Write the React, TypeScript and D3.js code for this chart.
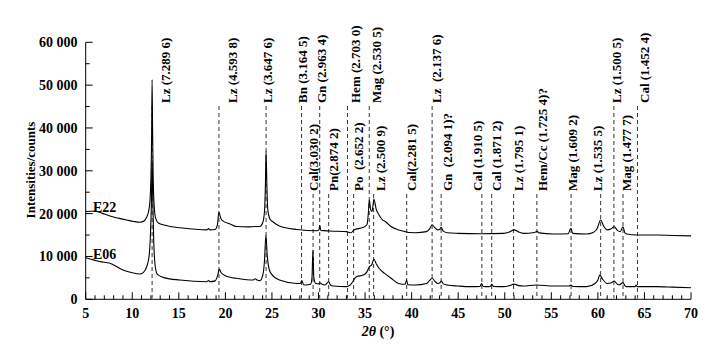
import React from "react";
import * as d3 from "d3";

// ---------- data ----------
const xTickValues = [5, 10, 15, 20, 25, 30, 35, 40, 45, 50, 55, 60, 65, 70];
const xTickLabels = ["5", "10", "15", "20", "25", "30", "35", "40", "45", "50", "55", "60", "65", "70"];
const yTickValues = [0, 10000, 20000, 30000, 40000, 50000, 60000];
const yTickLabels = ["0", "10 000", "20 000", "30 000", "40 000", "50 000", "60 000"];

const seriesNames = ["E22", "E06"];

// [2θ, counts]
const e22: [number, number][] = [
  [5.0, 20500], [5.5, 20550], [6.0, 20600], [6.5, 20300], [7.0, 19900], [7.6, 19450],
  [8.5, 18950], [9.4, 18500], [10.2, 18150], [10.85, 18000], [11.2, 18200], [11.5, 19000],
  [11.75, 20500], [11.9, 23000], [12.0, 28000], [12.08, 38000], [12.13, 51300], [12.18, 40000],
  [12.25, 28000], [12.35, 22000], [12.5, 19000], [12.8, 17800], [13.5, 17300], [15.1, 16700],
  [16.5, 16400], [18.0, 16200], [18.2, 16500], [18.35, 16200], [18.9, 16300], [19.15, 17500],
  [19.3, 20300], [19.5, 19000], [19.8, 18200], [20.5, 17600], [21.2, 17000], [22.5, 16900],
  [23.2, 17000], [23.7, 17000], [24.0, 17800], [24.2, 20500], [24.3, 27000], [24.37, 34500],
  [24.45, 27000], [24.55, 21000], [24.8, 18700], [25.1, 18100], [25.8, 17100], [27.7, 16300],
  [29.8, 16000], [30.05, 16200], [30.13, 17300], [30.25, 16100], [31.2, 15950], [33.0, 15800],
  [33.5, 15550], [33.8, 16200], [34.8, 16800], [35.2, 17400], [35.35, 20000], [35.45, 23200],
  [35.6, 21000], [35.75, 20500], [35.95, 23400], [36.2, 21000], [36.5, 19700], [36.9, 18500],
  [37.2, 18100], [37.7, 17100], [38.6, 16200], [40.4, 15550], [41.6, 15800], [41.95, 16500],
  [42.2, 17400], [42.5, 16700], [42.8, 16200], [43.0, 16300], [43.16, 16800], [43.4, 15900],
  [43.8, 15550], [45.0, 15400], [47.4, 15300], [49.85, 15400], [50.5, 15700], [51.0, 16200],
  [51.5, 15700], [52.0, 15400], [53.2, 15600], [53.45, 15900], [53.7, 15500], [55.2, 15250],
  [56.8, 15300], [57.1, 16550], [57.3, 15400], [58.8, 15250], [59.5, 15600], [59.9, 16400],
  [60.3, 18500], [60.6, 17200], [61.0, 16200], [61.4, 16400], [61.75, 16950], [62.1, 16100],
  [62.4, 15800], [62.7, 16950], [62.9, 15500], [63.1, 15250], [64.2, 15000], [66.3, 15000],
  [68.0, 14900], [70.0, 14800],
];

const e06: [number, number][] = [
  [5.0, 9700], [6.55, 8800], [7.6, 8400], [9.0, 6850], [10.0, 6200], [10.8, 5900],
  [11.2, 6300], [11.55, 7600], [11.8, 10000], [11.95, 15000], [12.05, 22000], [12.13, 32500],
  [12.2, 24000], [12.3, 14000], [12.45, 8000], [12.7, 5800], [13.5, 5000], [15.1, 4500],
  [18.0, 4100], [18.2, 4400], [18.35, 4100], [18.9, 4300], [19.15, 5400], [19.35, 7000],
  [19.55, 6200], [20.0, 5500], [20.5, 5150], [21.2, 4900], [23.0, 4500], [23.2, 4800],
  [23.4, 4500], [23.7, 4350], [24.0, 5500], [24.2, 9000], [24.35, 15000], [24.5, 10000],
  [24.7, 7000], [24.9, 6050], [25.8, 4500], [27.7, 3700], [28.05, 3700], [28.2, 4350],
  [28.4, 3400], [28.6, 3350], [29.15, 3500], [29.3, 5000], [29.4, 11500], [29.5, 5000],
  [29.7, 3700], [30.0, 3600], [30.15, 3850], [30.4, 3500], [30.7, 3350], [31.1, 4100],
  [31.3, 3300], [31.6, 3100], [33.0, 2950], [33.4, 3350], [34.1, 5300], [34.8, 5650],
  [35.2, 6400], [35.45, 7600], [35.7, 8000], [35.95, 9350], [36.2, 8300], [36.5, 7250],
  [37.1, 6050], [37.8, 4900], [38.6, 3700], [39.3, 3500], [39.45, 4500], [39.6, 3400],
  [40.4, 3350], [41.6, 3700], [41.9, 4300], [42.2, 4900], [42.5, 4200], [42.8, 3700],
  [43.0, 3800], [43.2, 4250], [43.4, 3600], [43.8, 3350], [45.0, 3100], [46.3, 2950],
  [47.35, 3000], [47.5, 3700], [47.7, 3000], [48.1, 2950], [48.45, 3000], [48.6, 3500],
  [48.8, 3000], [49.85, 2950], [50.5, 3200], [51.0, 3550], [51.5, 3200], [52.0, 3100],
  [53.4, 3350], [55.2, 3100], [56.9, 3100], [57.1, 3350], [57.3, 3000], [58.8, 2950],
  [59.7, 3700], [60.0, 4500], [60.2, 5650], [60.5, 4700], [61.0, 3700], [61.4, 3800],
  [61.75, 4250], [62.1, 3500], [62.3, 3350], [62.7, 3900], [62.9, 3200], [63.1, 2950],
  [64.0, 2950], [64.1, 3300], [64.2, 2950], [66.3, 2950], [68.0, 2850], [70.0, 2700],
];

const peakLabels = [
  "Lz (7.289 6)", "Lz (4.593 8)", "Lz (3.647 6)", "Bn (3.164 5)", "Cal(3.030 2)",
  "Gn (2.963 4)", "Pn(2.874 2)", "Hem (2.703 0)", "Po\u2002(2.652 2)", "Mag (2.530 5)",
  "Lz (2.500 9)", "Cal(2.281 5)", "Lz\u2002(2.137 6)", "Gn\u2002(2.094 1)?", "Cal (1.910 5)",
  "Cal (1.871 2)", "Lz (1.795 1)", "Hem/Cc (1.725 4)?", "Mag (1.609 2)", "Lz (1.535 5)",
  "Lz (1.500 5)", "Mag (1.477 7)", "Cal (1.452 4)",
];
const peakTwoTheta = [
  12.13, 19.31, 24.37, 28.18, 29.42, 30.13, 31.09, 33.11, 33.77, 35.45, 35.92, 39.47,
  42.2, 43.17, 47.54, 48.6, 50.95, 53.45, 57.12, 60.3, 61.72, 62.7, 64.25,
];

// ---------- layout (annotation placement) ----------
const labelRow = [1, 1, 1, 1, 2, 1, 2, 1, 2, 1, 2, 2, 1, 2, 2, 2, 2, 2, 2, 2, 1, 2, 1];
const labelDx = [13, 13, 1, 1, 0, 2, 5, 8, 5, 7, 7, 5, 4, 6, -4, 5, 5, 6, 1, -3, 3, 3, 7];
const rowBottom: Record<number, number> = { 1: 103, 2: 191 };

const W = 713, H = 344;
const M = { left: 85.7, right: 691, top: 42.3, bottom: 299.3 };
const FONT = "'Liberation Serif', 'Times New Roman', serif";

export default function App() {
  const x = d3.scaleLinear().domain([5, 70]).range([M.left, M.right]);
  const y = d3.scaleLinear().domain([0, 60000]).range([M.bottom, M.top]);
  const line = d3
    .line<[number, number]>()
    .x((d) => x(d[0]))
    .y((d) => y(d[1]))
    .curve(d3.curveMonotoneX);

  const xMinor = d3.range(5, 71, 1);
  const yMinor = d3.range(0, 60001, 5000);

  return (
    <svg
      width={W}
      height={H}
      style={{ position: "absolute", left: 0, top: 0, background: "#fff" }}
      fontFamily={FONT}
      fontWeight="bold"
    >
      <rect x={0} y={0} width={W} height={H} fill="#fff" />
      {/* dashed reference lines */}
      {peakTwoTheta.map((t, i) => (
        <line
          key={"d" + i}
          x1={x(t)}
          x2={x(t)}
          y1={rowBottom[labelRow[i]] + 3}
          y2={M.bottom - 1}
          stroke="#333"
          strokeWidth={1}
          strokeDasharray="4,3"
        />
      ))}
      {/* peak labels */}
      {peakLabels.map((s, i) => {
        const cx = x(peakTwoTheta[i]) + labelDx[i];
        const by = rowBottom[labelRow[i]];
        return (
          <text
            key={"l" + i}
            transform={`translate(${cx},${by}) rotate(-90)`}
            dy="0.35em"
            fontSize={13}
            fill="#000"
            style={{ whiteSpace: "pre" }}
          >
            {s}
          </text>
        );
      })}
      {/* curves */}
      <path d={line(e22) || ""} fill="none" stroke="#000" strokeWidth={1.1} />
      <path d={line(e06) || ""} fill="none" stroke="#000" strokeWidth={1.1} />
      {/* series labels */}
      <text x={93} y={212} fontSize={14}>{seriesNames[0]}</text>
      <text x={93} y={259} fontSize={14}>{seriesNames[1]}</text>

      {/* axes */}
      <line x1={M.left} x2={M.left} y1={M.top} y2={M.bottom} stroke="#000" strokeWidth={1} />
      <line x1={M.left} x2={M.right} y1={M.bottom} y2={M.bottom} stroke="#000" strokeWidth={1} />
      {yMinor.map((v) => (
        <line
          key={"yt" + v}
          x1={M.left}
          x2={M.left + (v % 10000 === 0 ? 7 : 4)}
          y1={y(v)}
          y2={y(v)}
          stroke="#000"
          strokeWidth={1}
        />
      ))}
      {xMinor.map((v) => (
        <line
          key={"xt" + v}
          x1={x(v)}
          x2={x(v)}
          y1={M.bottom}
          y2={M.bottom - (v % 5 === 0 ? 7 : 4)}
          stroke="#000"
          strokeWidth={1}
        />
      ))}
      {yTickValues.map((v, i) => (
        <text key={"yl" + v} x={77.5} y={y(v)} dy="0.35em" textAnchor="end" fontSize={14}>
          {yTickLabels[i]}
        </text>
      ))}
      {xTickValues.map((v, i) => (
        <text key={"xl" + v} x={x(v)} y={318} textAnchor="middle" fontSize={14}>
          {xTickLabels[i]}
        </text>
      ))}
      {/* axis titles */}
      <text
        transform={`translate(30,170) rotate(-90)`}
        dy="0.35em"
        textAnchor="middle"
        fontSize={13}
      >
        Intensities/counts
      </text>
      <text x={378} y={336} textAnchor="middle" fontSize={14}>
        <tspan fontStyle="italic">2θ</tspan>
        <tspan> (°)</tspan>
      </text>
    </svg>
  );
}
